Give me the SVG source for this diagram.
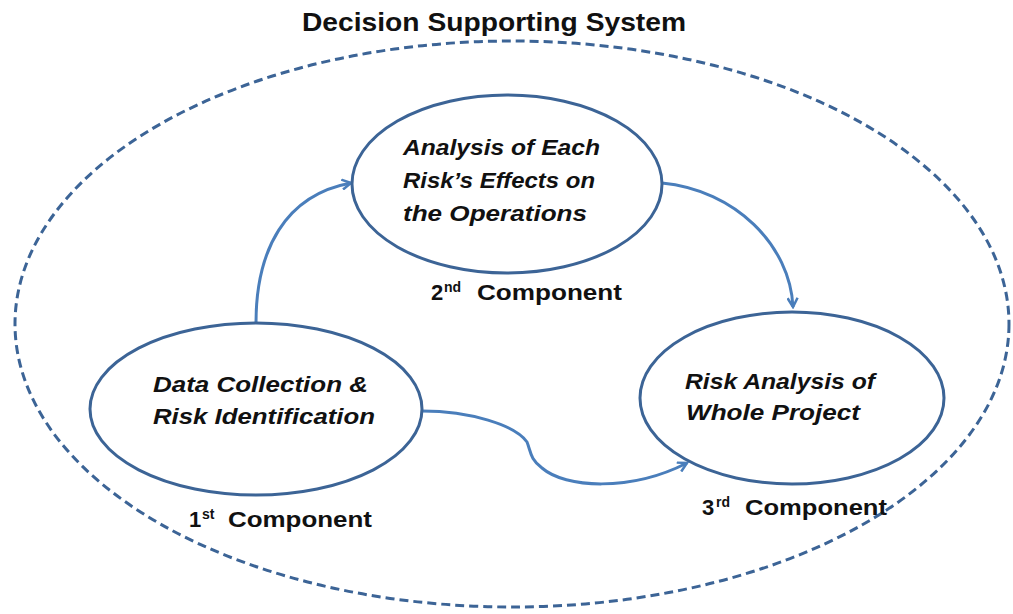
<svg xmlns="http://www.w3.org/2000/svg" width="1013" height="614" viewBox="0 0 1013 614">
<defs>
<style>
.node{fill:#ffffff;stroke:#3c6496;stroke-width:3}
.lbl{font-family:"Liberation Sans",Arial,sans-serif;font-weight:bold;font-style:italic;font-size:22px;fill:#111}
.cmp{font-family:"Liberation Sans",Arial,sans-serif;font-weight:bold;font-size:22px;fill:#111}
.sup{font-family:"Liberation Sans",Arial,sans-serif;font-weight:bold;font-size:14px;fill:#111}
.conn{fill:none;stroke:#4a7ebb;stroke-width:3;marker-end:url(#arr)}
</style>
<marker id="arr" viewBox="0 0 12 12" refX="10" refY="6" markerWidth="12" markerHeight="12" markerUnits="userSpaceOnUse" orient="auto">
<path d="M1,1 L10,6 L1,11" fill="none" stroke="#4a7ebb" stroke-width="2.5"/>
</marker>
</defs>
<rect width="1013" height="614" fill="#ffffff"/>
<text x="302" y="31" textLength="384" lengthAdjust="spacingAndGlyphs" font-family="Liberation Sans,Arial,sans-serif" font-weight="bold" font-size="26" fill="#111">Decision Supporting System</text>
<g id="system-boundary">
<ellipse cx="512" cy="324" rx="497" ry="283" fill="none" stroke="#3c6496" stroke-width="3" stroke-dasharray="9,5"/>
</g>
<g id="connectors">
<path class="conn" d="M256,323 C256,250 285,195 351,183"/>
<path class="conn" d="M662,183 C735,190 790,245 793,307"/>
<path class="conn" d="M422,411 C470,411 515,425 527,442 C531,452 530,459 542,468 C565,488 630,492 687,463"/>
</g>
<g id="node-analysis">
<ellipse class="node" cx="507" cy="184" rx="155" ry="89"/>
<text class="lbl" x="403" y="155" textLength="197" lengthAdjust="spacingAndGlyphs">Analysis of Each</text>
<text class="lbl" x="403" y="188" textLength="192" lengthAdjust="spacingAndGlyphs">Risk’s Effects on</text>
<text class="lbl" x="403" y="221" textLength="184" lengthAdjust="spacingAndGlyphs">the Operations</text>
</g>
<g id="node-data">
<ellipse class="node" cx="256" cy="409" rx="166" ry="86"/>
<text class="lbl" x="153" y="392" textLength="215" lengthAdjust="spacingAndGlyphs">Data Collection &amp;</text>
<text class="lbl" x="153" y="424" textLength="222" lengthAdjust="spacingAndGlyphs">Risk Identification</text>
</g>
<g id="node-risk">
<ellipse class="node" cx="792" cy="398" rx="152" ry="86"/>
<text class="lbl" x="685" y="389" textLength="190" lengthAdjust="spacingAndGlyphs">Risk Analysis of</text>
<text class="lbl" x="686" y="420" textLength="174" lengthAdjust="spacingAndGlyphs">Whole Project</text>
</g>
<g id="labels">
<text class="cmp" x="431" y="300">2</text><text class="sup" x="444" y="292">nd</text>
<text class="cmp" x="477" y="300" textLength="145" lengthAdjust="spacingAndGlyphs">Component</text>
<text class="cmp" x="189" y="527">1</text><text class="sup" x="202" y="519">st</text>
<text class="cmp" x="228" y="527" textLength="144" lengthAdjust="spacingAndGlyphs">Component</text>
<text class="cmp" x="702" y="515">3</text><text class="sup" x="716" y="507">rd</text>
<text class="cmp" x="745" y="515" textLength="142" lengthAdjust="spacingAndGlyphs">Component</text>
</g>
</svg>
